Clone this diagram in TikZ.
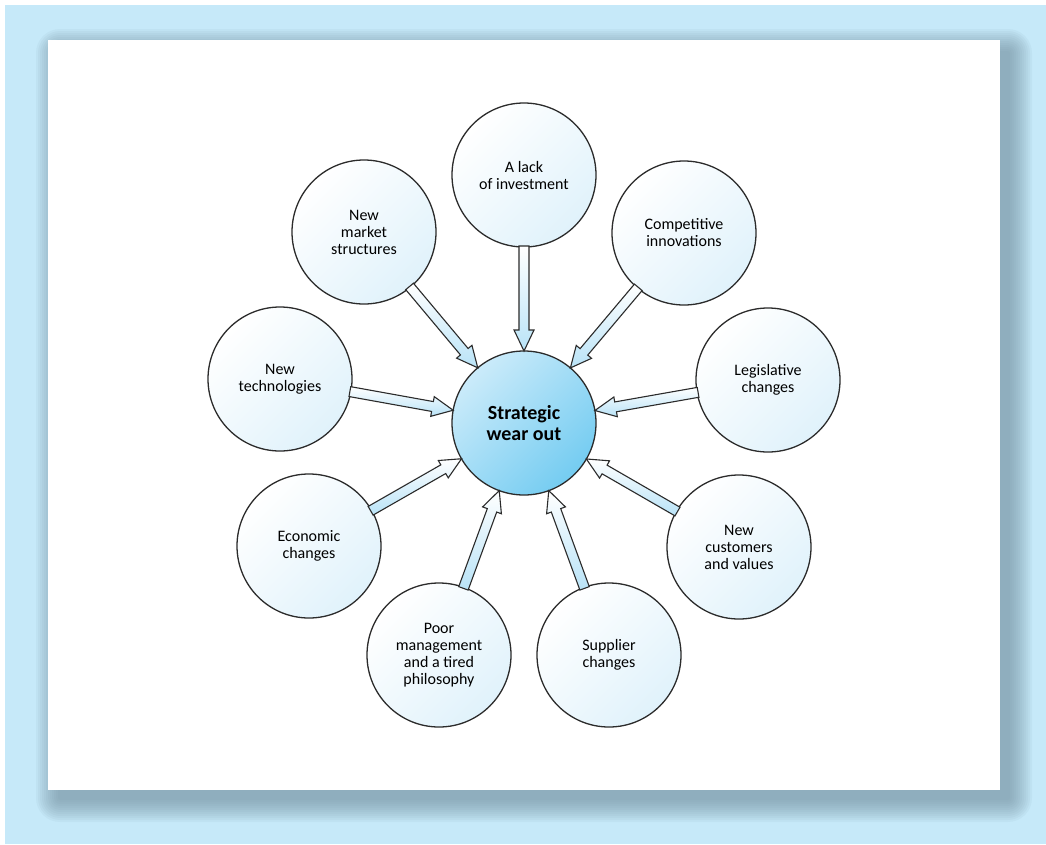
\documentclass[tikz,border=0pt]{standalone}
\usepackage{fontspec}
\setmainfont{Carlito}
\usetikzlibrary{calc}

\definecolor{framebg}{HTML}{C6E9F9}
\definecolor{shadowcol}{HTML}{6F8C9A}
\definecolor{ringline}{HTML}{2B2B2B}
\definecolor{ringfill}{HTML}{E0F2FB}
\definecolor{hubtop}{HTML}{CBEBFA}
\definecolor{hubbot}{HTML}{74CCF1}
\definecolor{arrowblue}{HTML}{B9E3F7}

% block arrow from a ring node to the hub
\newcommand\feed[1]{%
  \coordinate (fS) at ($(#1.center)!71pt!(hub.center)$);
  \coordinate (fT) at ($(hub.center)!72pt!(#1.center)$);
  \coordinate (fH) at ($(fT)!21pt!(fS)$);
  \draw[feedarrow] ($(fS)!5pt!90:(fT)$) -- ($(fH)!5pt!90:(fT)$)
    -- ($(fH)!10pt!90:(fT)$) -- (fT) -- ($(fH)!10pt!-90:(fT)$)
    -- ($(fH)!5pt!-90:(fT)$) -- ($(fS)!5pt!-90:(fT)$) -- cycle;}

\begin{document}
\begin{tikzpicture}[
  x=1pt, y=-1pt,
  every node/.style={font=\fontsize{16}{17}\selectfont},
  ring/.style={circle, draw=ringline, line width=1.3pt, minimum size=144pt,
               inner sep=0pt, align=center,
               top color=white, bottom color=ringfill, shading angle=45},
  hub/.style={ring, top color=hubtop, bottom color=hubbot, shading angle=45,
              font=\fontsize{20}{21}\selectfont\bfseries},
  feedarrow/.style={draw=ringline, line width=1.1pt, line join=miter,
                    top color=white, bottom color=arrowblue},
]
% frame and panel
\fill[white] (0,0) rectangle (1046,844);
\fill[framebg] (5,5) rectangle (1046,844);
\foreach \r in {0,2,...,22}
  \fill[shadowcol, opacity=0.07, rounded corners=\r pt+2pt]
    (58-\r,51-\r) rectangle (1010+\r,800+\r);
\fill[white] (48,40) rectangle (1000,790);
\useasboundingbox (0,0) rectangle (1046,844);

% nodes
\node[hub] (hub) at (524,423) {Strategic\\wear out};
\node[ring] (invest) at (524,175) {A lack\\of investment};
\node[ring] (innov) at (684,233) {Competitive\\innovations};
\node[ring] (legis) at (768,380) {Legislative\\changes};
\node[ring] (cust) at (739,547) {New\\customers\\and values};
\node[ring] (supp) at (609,655) {Supplier\\changes};
\node[ring] (poor) at (439,655) {Poor\\management\\and a tired\\philosophy};
\node[ring] (econ) at (309,546) {Economic\\changes};
\node[ring] (tech) at (280,379) {New\\technologies};
\node[ring] (market) at (364,232) {New\\market\\structures};

% arrows into the hub
\foreach \n in {invest,innov,legis,cust,supp,poor,econ,tech,market}
  \feed{\n};
\end{tikzpicture}
\end{document}
